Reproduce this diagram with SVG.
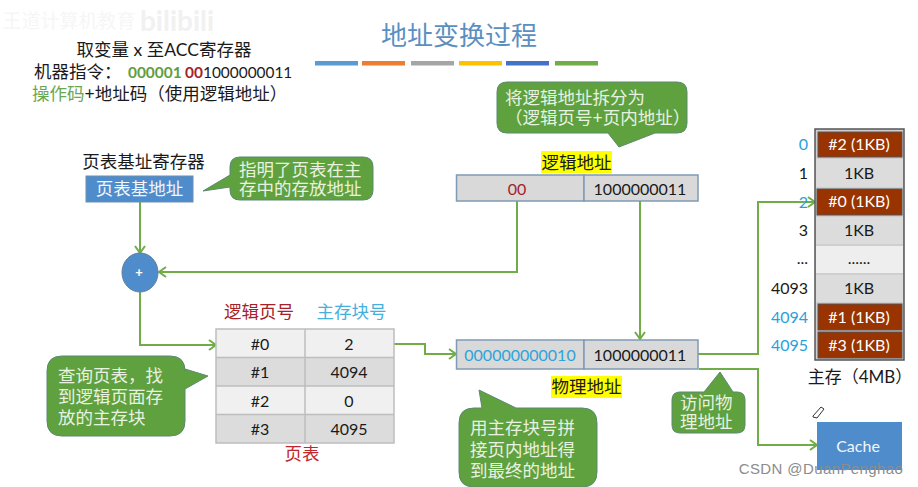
<svg xmlns="http://www.w3.org/2000/svg" width="918" height="487" viewBox="0 0 918 487">
<defs>
<marker id="arrow" markerUnits="userSpaceOnUse" markerWidth="14" markerHeight="14" refX="10.500" refY="7" orient="auto">
<path d="M3.500,2 L10.500,7 L3.500,12" fill="none" stroke="#70ad47" stroke-width="2"/>
</marker>
</defs>
<style>
text{font-family:"Lato","Noto Sans CJK SC",sans-serif;text-anchor:middle;fill:#1a1a1a;font-size:16px}
.cn{font-size:17.5px}
.cb{fill:#5fa13f;stroke:#5b8a70;stroke-width:1}
.cbt{fill:#e8f2e0;text-anchor:start;font-size:17.5px}
.cell{fill:#d9d9d9;stroke:#7f9ab5;stroke-width:1.5}
.th{stroke:#bdbdbd;stroke-width:1.5}
.mr{fill:#993300;stroke:#555;stroke-width:1}
.mg{fill:#dcdcdc}
.ml{fill:#eeeeee}
.idx{text-anchor:end}
.conn{fill:none;stroke:#70ad47;stroke-width:2}
.hl{fill:#ffff00}
</style>
<rect width="918" height="487" fill="#fff"/>

<g id="watermark">
<text x="69" y="28" style="fill:#f6f6f6;font-size:19px">王道计算机教育</text>
<text x="177" y="31" style="fill:#f1f1f1;font-size:28px;font-weight:700">bilibili</text>
</g>

<g id="title">
<text x="459" y="45" style="fill:#5b8fc2;font-size:26px">地址变换过程</text>
<rect x="315" y="61" width="43" height="4.500" fill="#5b9bd5"/>
<rect x="362" y="61" width="43" height="4.500" fill="#ed7d31"/>
<rect x="411" y="61" width="43" height="4.500" fill="#a5a5a5"/>
<rect x="459" y="61" width="43" height="4.500" fill="#ffc000"/>
<rect x="506" y="61" width="43" height="4.500" fill="#4472c4"/>
<rect x="555" y="61" width="43" height="4.500" fill="#70ad47"/>
</g>

<g id="instruction">
<text x="164" y="56" class="cn">取变量 x 至ACC寄存器</text>
<text x="34" y="78" style="text-anchor:start"><tspan class="cn">机器指令：</tspan><tspan x="128" style="font-size:15.400px;fill:#5f9e3e;font-weight:700">000001</tspan><tspan x="185" style="font-size:15.400px;fill:#a5222a;font-weight:700">00</tspan><tspan x="203" style="font-size:15.400px">1000000011</tspan></text>
<text x="32" y="100" class="cn" style="text-anchor:start"><tspan style="fill:#6aa84f">操作码</tspan><tspan>+地址码（使用逻辑地址）</tspan></text>
</g>

<g id="connectors">
<path class="conn" marker-end="url(#arrow)" d="M140,202 V253"/>
<path class="conn" marker-end="url(#arrow)" d="M517,201 V272 H159"/>
<path class="conn" marker-end="url(#arrow)" d="M140,292 V345 H216"/>
<path class="conn" marker-end="url(#arrow)" d="M394,344 H425 V354 H456"/>
<path class="conn" marker-end="url(#arrow)" d="M640,201 V339"/>
<path class="conn" marker-end="url(#arrow)" d="M698,354 H758 V202 H815"/>
<path class="conn" marker-end="url(#arrow)" d="M699,369 H758 V445 H817"/>
</g>

<g id="base-register">
<text x="143.500" y="168" class="cn">页表基址寄存器</text>
<rect x="86" y="176" width="107" height="26" fill="#4f8ccb" stroke="#6d8fb0"/>
<text x="139.500" y="195" class="cn" style="fill:#f2f6fb">页表基地址</text>
</g>

<g id="callout-base">
<path class="cb" d="M240,157 H363 Q373,157 373,167 V190 Q373,200 363,200 H240 Q230,200 230,190 V187 L203,191 L230,175 V167 Q230,157 240,157 Z"/>
<text x="239" y="176" class="cbt">指明了页表在主</text>
<text x="239" y="195" class="cbt">存中的存放地址</text>
</g>

<g id="callout-split">
<path class="cb" d="M507,82 H677 Q687,82 687,92 V123 Q687,133 677,133 H655 L619,147 L608,133 H507 Q497,133 497,123 V92 Q497,82 507,82 Z"/>
<text x="505" y="104" class="cbt">将逻辑地址拆分为</text>
<text x="505" y="124" class="cbt">（逻辑页号+页内地址）</text>
</g>

<g id="logical-address">
<rect x="541" y="151" width="71" height="22" class="hl"/>
<text x="576.500" y="169" class="cn">逻辑地址</text>
<rect x="456.500" y="175" width="127.500" height="26" class="cell"/>
<rect x="584" y="175" width="114" height="26" class="cell"/>
<text x="517" y="195" style="fill:#a5222a">00</text>
<text x="640" y="195">1000000011</text>
</g>

<g id="adder">
<ellipse cx="140" cy="272.500" rx="18" ry="19.500" fill="#4f8ccb" stroke="#5f7f9f"/>
<text x="139" y="277" style="fill:#fff;font-size:13px;font-weight:700">+</text>
</g>

<g id="page-table">
<text x="259" y="318" class="cn" style="fill:#a5222a">逻辑页号</text>
<text x="351.500" y="318" class="cn" style="fill:#45b0dc">主存块号</text>
<rect x="216" y="329" width="178" height="28.500" fill="#f0f0f0"/>
<rect x="216" y="357.500" width="178" height="28.500" fill="#dcdcdc"/>
<rect x="216" y="386" width="178" height="28.500" fill="#f0f0f0"/>
<rect x="216" y="414.500" width="178" height="28.500" fill="#dcdcdc"/>
<path class="th" fill="none" d="M216,329 H394 V443 H216 Z M305,329 V443 M216,357.500 H394 M216,386 H394 M216,414.500 H394"/>
<text x="260" y="350">#0</text><text x="349" y="350">2</text>
<text x="260" y="378">#1</text><text x="349" y="378">4094</text>
<text x="260" y="407">#2</text><text x="349" y="407">0</text>
<text x="260" y="435">#3</text><text x="349" y="435">4095</text>
<text x="302" y="460" class="cn" style="fill:#c0272d">页表</text>
</g>

<g id="callout-lookup">
<path class="cb" d="M62,356 H170 Q185,356 185,371 V369 L208,376 L185,389 V421 Q185,436 170,436 H62 Q47,436 47,421 V371 Q47,356 62,356 Z"/>
<text x="58" y="382" class="cbt">查询页表，找</text>
<text x="58" y="403" class="cbt">到逻辑页面存</text>
<text x="58" y="424" class="cbt">放的主存块</text>
</g>

<g id="physical-address">
<rect x="456.500" y="340" width="127.500" height="29" class="cell"/>
<rect x="584" y="340" width="114" height="29" class="cell"/>
<text x="520" y="361" style="fill:#2ea3db">000000000010</text>
<text x="640" y="361">1000000011</text>
<rect x="551" y="376" width="71" height="22" class="hl"/>
<text x="586.500" y="393" class="cn">物理地址</text>
</g>

<g id="callout-concat">
<path class="cb" d="M474,408 H482 L479,390 L516,408 H582 Q597,408 597,423 V472 Q597,487 582,487 H474 Q459,487 459,472 V423 Q459,408 474,408 Z"/>
<text x="470" y="434" class="cbt">用主存块号拼</text>
<text x="470" y="456" class="cbt">接页内地址得</text>
<text x="470" y="477" class="cbt">到最终的地址</text>
</g>

<g id="callout-access">
<path class="cb" d="M680,392 H704 L720,372 L733,392 H737 Q745,392 745,400 V425 Q745,433 737,433 H680 Q672,433 672,425 V400 Q672,392 680,392 Z"/>
<text x="680" y="409" class="cbt">访问物</text>
<text x="680" y="428" class="cbt">理地址</text>
</g>

<g id="main-memory">
<rect x="815" y="129" width="89" height="231" fill="#cfcfcf" stroke="#555" stroke-width="1.500"/>
<rect x="818" y="132" width="84" height="25" class="mr"/>
<rect x="816" y="159" width="87" height="28" class="mg"/>
<rect x="817" y="189" width="85" height="26" class="mr"/>
<rect x="816" y="217" width="87" height="27" class="mg"/>
<rect x="816" y="246" width="87" height="27" class="ml"/>
<rect x="816" y="275" width="87" height="27" class="mg"/>
<rect x="818" y="304" width="84" height="26" class="mr"/>
<rect x="818" y="332" width="84" height="26" class="mr"/>
<text x="859" y="150" style="fill:#fff">#2 (1KB)</text>
<text x="859" y="179">1KB</text>
<text x="859" y="207" style="fill:#fff">#0 (1KB)</text>
<text x="859" y="236">1KB</text>
<text x="859" y="264">......</text>
<text x="859" y="294">1KB</text>
<text x="859" y="323" style="fill:#fff">#1 (1KB)</text>
<text x="859" y="351" style="fill:#fff">#3 (1KB)</text>
<text x="808" y="150" class="idx" style="fill:#29a0da">0</text>
<text x="808" y="179" class="idx">1</text>
<text x="808" y="208" class="idx" style="fill:#29a0da">2</text>
<text x="808" y="236" class="idx">3</text>
<text x="808" y="264" class="idx">...</text>
<text x="808" y="294" class="idx">4093</text>
<text x="808" y="323" class="idx" style="fill:#29a0da">4094</text>
<text x="808" y="351" class="idx" style="fill:#29a0da">4095</text>
<text x="860" y="383" style="font-size:17px">主存（4MB）</text>
</g>

<g id="cache">
<path d="M813,416 L821,407 L824,409 L817,418 L813,417 Z" fill="none" stroke="#333" stroke-width="1"/>
<rect x="817" y="422" width="85" height="48" fill="#4f8ccb"/>
<text x="858" y="452" style="fill:#f2f6fb">Cache</text>
</g>

<text x="821" y="474" style="font-family:'Liberation Sans',sans-serif;font-size:15px;fill:#8c8c8c;letter-spacing:.4px">CSDN @DuanPenghao</text>
</svg>
